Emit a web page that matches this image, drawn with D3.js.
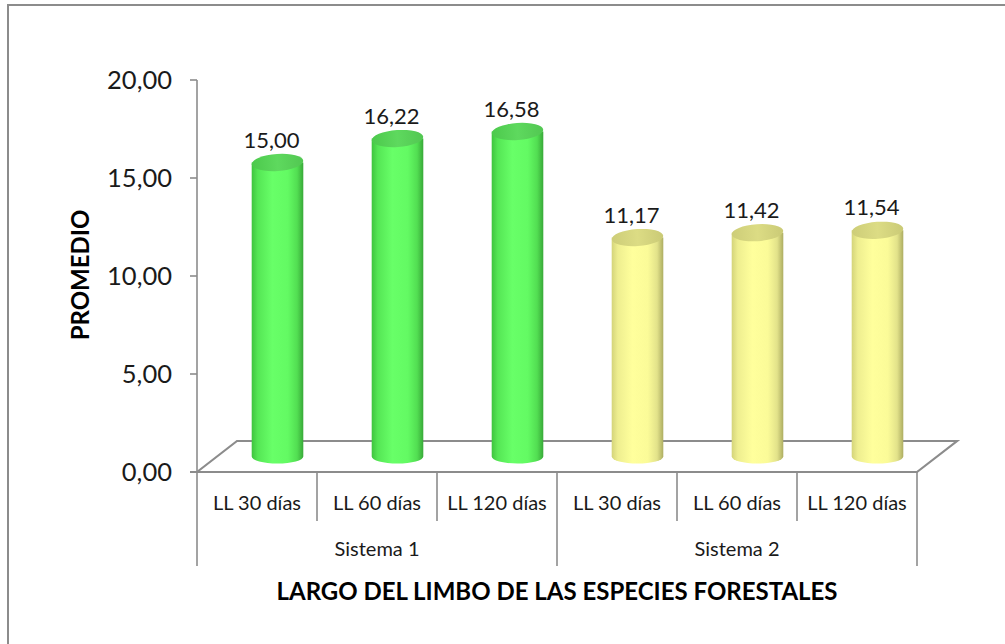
<!DOCTYPE html>
<html>
<head>
<meta charset="utf-8">
<script src="https://cdn.jsdelivr.net/npm/d3@7/dist/d3.min.js"></script>
<style>
  html, body { margin: 0; padding: 0; background: #ffffff; }
  svg { display: block; font-family: Lato, "Open Sans", sans-serif; }
</style>
</head>
<body>
<svg id="chart" width="1005" height="644"></svg>
<script>
// Categories (inner level) and their group (outer level)
const categories = ["LL 30 días", "LL 60 días", "LL 120 días", "LL 30 días", "LL 60 días", "LL 120 días"];
const groups = ["Sistema 1", "Sistema 2"];
const groupOf = [0, 0, 0, 1, 1, 1];
const values = [15.00, 16.22, 16.58, 11.17, 11.42, 11.54];
const valueLabels = ["15,00", "16,22", "16,58", "11,17", "11,42", "11,54"];
const yTicks = [0, 5, 10, 15, 20];
const yTickLabels = ["0,00", "5,00", "10,00", "15,00", "20,00"];
const yTitle = "PROMEDIO";
const xTitle = "LARGO DEL LIMBO DE LAS ESPECIES FORESTALES";

const svg = d3.select("#chart");
const axisColor = "#8c8c8c";

// outer chart frame (continues past the visible area on the right and bottom)
svg.append("rect")
  .attr("x", 8).attr("y", 5).attr("width", 1020).attr("height", 660)
  .attr("fill", "none").attr("stroke", axisColor).attr("stroke-width", 2);

const x = d3.scaleBand().domain(d3.range(categories.length)).range([197, 917]).padding(0);
const y = d3.scaleLinear().domain([0, 20]).range([472, 80]);

// depth of the 3D floor
const depthX = 40, depthY = -31;

// floor outline
const y0 = y(0);
const floor = [[197, y0], [197 + depthX, y0 + depthY], [917 + depthX, y0 + depthY], [917, y0]];
svg.append("path")
  .attr("d", d3.line()(floor) + "Z")
  .attr("fill", "none").attr("stroke", axisColor).attr("stroke-width", 2.2)
  .attr("stroke-linejoin", "miter");

// value axis
svg.append("line")
  .attr("x1", 197).attr("x2", 197).attr("y1", y(20)).attr("y2", y0)
  .attr("stroke", axisColor).attr("stroke-width", 1.6);
svg.selectAll(".ytick").data(yTicks).join("line")
  .attr("x1", 190).attr("x2", 197)
  .attr("y1", d => y(d)).attr("y2", d => y(d))
  .attr("stroke", axisColor).attr("stroke-width", 1.6);
svg.selectAll(".ylab").data(yTicks).join("text")
  .attr("x", 172).attr("y", d => y(d) + 9)
  .attr("text-anchor", "end")
  .attr("font-size", 25.5).attr("fill", "#1a1a1a")
  .text((d, i) => yTickLabels[i]);

// y axis title
svg.append("text")
  .attr("transform", "translate(89,275) rotate(-90)")
  .attr("text-anchor", "middle")
  .attr("font-size", 24).attr("font-weight", "bold").attr("fill", "#000")
  .text(yTitle);

// category axis: separators
const sepX = d3.range(categories.length + 1).map(i => i < categories.length ? x(i) : x(categories.length - 1) + x.bandwidth());
svg.selectAll(".sep").data(sepX).join("line")
  .attr("x1", d => d).attr("x2", d => d)
  .attr("y1", y0)
  .attr("y2", (d, i) => (i % 3 === 0) ? 566 : 521)
  .attr("stroke", axisColor).attr("stroke-width", 1.6);
svg.append("line")
  .attr("x1", 190).attr("x2", 917).attr("y1", y0).attr("y2", y0)
  .attr("stroke", axisColor).attr("stroke-width", 2.2);

svg.selectAll(".clab").data(categories).join("text")
  .attr("x", (d, i) => x(i) + x.bandwidth() / 2)
  .attr("y", 510)
  .attr("text-anchor", "middle")
  .attr("font-size", 20).attr("fill", "#1a1a1a")
  .text(d => d);

svg.selectAll(".glab").data(groups).join("text")
  .attr("x", (d, gi) => {
    const idx = groupOf.map((g, i) => g === gi ? i : -1).filter(i => i >= 0);
    return (x(idx[0]) + x(idx[idx.length - 1]) + x.bandwidth()) / 2;
  })
  .attr("y", 556)
  .attr("text-anchor", "middle")
  .attr("font-size", 20).attr("fill", "#1a1a1a")
  .text(d => d);

svg.append("text")
  .attr("x", 557).attr("y", 600)
  .attr("text-anchor", "middle")
  .attr("font-size", 24).attr("font-weight", "bold").attr("fill", "#000")
  .text(xTitle);

// cylinder gradients
const defs = svg.append("defs");
function hGrad(id, stops) {
  const g = defs.append("linearGradient").attr("id", id)
    .attr("x1", "0%").attr("x2", "100%").attr("y1", "0%").attr("y2", "0%");
  stops.forEach(s => g.append("stop").attr("offset", s[0]).attr("stop-color", s[1]));
}
hGrad("greenBody", [["0%", "#3fc43f"], ["12%", "#55e655"], ["40%", "#68ff68"], ["70%", "#63fa63"], ["88%", "#52de52"], ["100%", "#39a939"]]);
hGrad("greenTop", [["0%", "#4cc94c"], ["50%", "#5ed95e"], ["100%", "#52c752"]]);
hGrad("yellowBody", [["0%", "#d4d47a"], ["12%", "#eeee90"], ["40%", "#ffff9c"], ["70%", "#fbfb98"], ["88%", "#e2e28a"], ["100%", "#adad62"]]);
hGrad("yellowTop", [["0%", "#cdcd78"], ["50%", "#dcdc84"], ["100%", "#caca76"]]);

// bars as cylinders standing at mid depth of the floor
const barW = x.bandwidth() * 0.43;
const rx = barW / 2, ryBase = 7, ryTop = 8.5;
const offX = depthX / 2 + 0.5, offY = depthY / 2;
const bars = svg.append("g");
values.forEach((v, i) => {
  const cx = x(i) + x.bandwidth() / 2 + offX;
  const base = y(0) + offY;
  const top = y(v) + offY;
  const body = groupOf[i] === 0 ? "greenBody" : "yellowBody";
  const cap = groupOf[i] === 0 ? "greenTop" : "yellowTop";
  bars.append("path")
    .attr("d", `M${cx - rx},${top} L${cx - rx},${base} A${rx},${ryBase} 0 0 0 ${cx + rx},${base} L${cx + rx},${top} Z`)
    .attr("fill", `url(#${body})`);
  bars.append("ellipse")
    .attr("cx", cx).attr("cy", top).attr("rx", rx).attr("ry", ryTop)
    .attr("transform", `rotate(-4,${cx},${top})`)
    .attr("fill", `url(#${cap})`);
  bars.append("text")
    .attr("x", cx - 6).attr("y", top - 15)
    .attr("text-anchor", "middle")
    .attr("font-size", 22).attr("fill", "#1a1a1a")
    .text(valueLabels[i]);
});
</script>
</body>
</html>
